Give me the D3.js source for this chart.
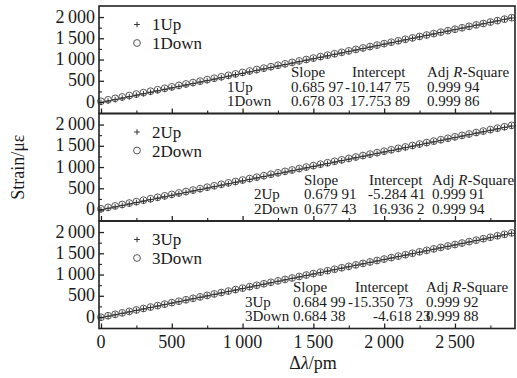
<!DOCTYPE html>
<html>
<head>
<meta charset="utf-8">
<script src="https://cdn.jsdelivr.net/npm/d3@7"></script>
<style>
  body { margin: 0; background: #fff; }
  svg text { font-family: "Liberation Serif", "DejaVu Serif", serif; fill: #1a1a1a; }
</style>
</head>
<body>
<svg id="chart" width="517" height="378" font-family="Liberation Serif, DejaVu Serif, serif"></svg>
<script>
// wavelength shift (pm) for every sample
const dl = [0, 50, 100, 150, 200, 250, 300, 350, 400, 450, 500, 550, 600, 650, 700, 750, 800, 850, 900, 950,
  1000, 1050, 1100, 1150, 1200, 1250, 1300, 1350, 1400, 1450, 1500, 1550, 1600, 1650, 1700, 1750, 1800, 1850, 1900, 1950,
  2000, 2050, 2100, 2150, 2200, 2250, 2300, 2350, 2400, 2450, 2500, 2550, 2600, 2650, 2700, 2750, 2800, 2850, 2900];

const up1 = [-10, 24, 58, 93, 127, 161, 196, 230, 264, 299, 333, 367, 401, 436, 470, 504, 539, 573, 607, 642,
  676, 710, 744, 779, 813, 847, 882, 916, 950, 985, 1019, 1053, 1087, 1122, 1156, 1190, 1225, 1259, 1293, 1327,
  1362, 1396, 1430, 1465, 1499, 1533, 1568, 1602, 1636, 1670, 1705, 1739, 1773, 1808, 1842, 1876, 1911, 1945, 1979];
const down1 = [18, 52, 86, 119, 153, 187, 221, 255, 289, 323, 357, 391, 425, 458, 492, 526, 560, 594, 628, 662,
  696, 730, 764, 797, 831, 865, 899, 933, 967, 1001, 1035, 1069, 1103, 1136, 1170, 1204, 1238, 1272, 1306, 1340,
  1374, 1408, 1442, 1476, 1509, 1543, 1577, 1611, 1645, 1679, 1713, 1747, 1781, 1815, 1848, 1882, 1916, 1950, 1984];
const up2 = [-5, 29, 63, 97, 131, 165, 199, 233, 267, 301, 335, 369, 403, 437, 471, 505, 539, 573, 607, 641,
  675, 709, 743, 777, 811, 845, 879, 913, 947, 981, 1015, 1049, 1083, 1117, 1151, 1185, 1219, 1253, 1287, 1321,
  1355, 1389, 1423, 1457, 1491, 1525, 1559, 1593, 1627, 1660, 1694, 1728, 1762, 1796, 1830, 1864, 1898, 1932, 1966];
const down2 = [17, 51, 85, 119, 152, 186, 220, 254, 288, 322, 356, 390, 423, 457, 491, 525, 559, 593, 627, 660,
  694, 728, 762, 796, 830, 864, 898, 931, 965, 999, 1033, 1067, 1101, 1135, 1169, 1202, 1236, 1270, 1304, 1338,
  1372, 1406, 1440, 1473, 1507, 1541, 1575, 1609, 1643, 1677, 1711, 1744, 1778, 1812, 1846, 1880, 1914, 1948, 1981];
const up3 = [-15, 19, 53, 87, 122, 156, 190, 224, 259, 293, 327, 361, 396, 430, 464, 498, 533, 567, 601, 635,
  670, 704, 738, 772, 807, 841, 875, 909, 944, 978, 1012, 1046, 1081, 1115, 1149, 1183, 1218, 1252, 1286, 1320,
  1355, 1389, 1423, 1457, 1492, 1526, 1560, 1594, 1629, 1663, 1697, 1731, 1766, 1800, 1834, 1868, 1903, 1937, 1971];
const down3 = [-5, 30, 64, 98, 132, 166, 201, 235, 269, 303, 338, 372, 406, 440, 474, 509, 543, 577, 611, 646,
  680, 714, 748, 782, 817, 851, 885, 919, 954, 988, 1022, 1056, 1090, 1125, 1159, 1193, 1227, 1261, 1296, 1330,
  1364, 1398, 1433, 1467, 1501, 1535, 1569, 1604, 1638, 1672, 1706, 1741, 1775, 1809, 1843, 1877, 1912, 1946, 1980];

const upNames = ["1Up", "2Up", "3Up"];
const downNames = ["1Down", "2Down", "3Down"];

// linear fit results printed in each panel
const fitSlope = [0.68597, 0.67991, 0.68499];
const fitIntercept = [-10.14775, -5.28441, -15.35073];
const slopeUp = ["0.685 97", "0.679 91", "0.684 99"];
const slopeDown = ["0.678 03", "0.677 43", "0.684 38"];
const interceptUp = ["-10.147 75", "-5.284 41", "-15.350 73"];
const interceptDown = ["17.753 89", "16.936 2", "-4.618 23"];
const r2Up = ["0.999 94", "0.999 91", "0.999 92"];
const r2Down = ["0.999 86", "0.999 94", "0.999 88"];

const xTicks = [0, 500, 1000, 1500, 2000, 2500];
const yTicks = [0, 500, 1000, 1500, 2000];

const svg = d3.select("#chart");
const plotL = 99, plotR = 515, plotT = 6, panelH = 107.5;
const ink = "#222";
const fmt = v => v >= 1000 ? d3.format(",")(v).replace(",", "\u2009") : String(v);

const x = d3.scaleLinear().domain([-14, 2924]).range([plotL, plotR]);

const panels = [
  {up: up1, down: down1},
  {up: up2, down: down2},
  {up: up3, down: down3}
];

// per-panel x positions of the fit table
const tablePos = [
  {name: 227, slope: 291, icH: 352, icU: 345, icD: 350, r2: 427},
  {name: 254, slope: 304, icH: 369, icU: 368, icD: 372, r2: 432},
  {name: 245, slope: 293, icH: 355, icU: 348, icD: 373, r2: 426}
];

panels.forEach((p, i) => {
  const t = plotT + i * panelH;
  const y = d3.scaleLinear().domain([-270, 2260]).range([t + panelH, t]);
  const g = svg.append("g");
  const last = dl[dl.length - 1];

  // fit line
  g.append("line")
    .attr("x1", x(0)).attr("x2", x(last))
    .attr("y1", y(fitIntercept[i])).attr("y2", y(fitSlope[i] * last + fitIntercept[i]))
    .attr("stroke", "#333").attr("stroke-width", 1);

  // down: open circles
  g.selectAll(".c").data(p.down).join("circle")
    .attr("cx", (d, j) => x(dl[j]))
    .attr("cy", d => y(d))
    .attr("r", 3.4)
    .attr("fill", "none")
    .attr("stroke", "#555")
    .attr("stroke-width", 1);

  // up: plus signs
  g.selectAll(".p").data(p.up).join("path")
    .attr("d", (d, j) => {
      const cx = x(dl[j]), cy = y(d), s = 2.8;
      return `M${cx - s},${cy}H${cx + s}M${cx},${cy - s}V${cy + s}`;
    })
    .attr("stroke", "#333")
    .attr("stroke-width", 1);

  // y axis, ticks inward
  g.append("g").attr("transform", `translate(${plotL},0)`)
    .call(d3.axisRight(y).tickValues(yTicks).tickSize(5).tickFormat(""))
    .call(a => a.select(".domain").remove())
    .selectAll("line").attr("stroke", ink).attr("stroke-width", 1.3);
  g.append("g").attr("transform", `translate(${plotL},0)`)
    .call(d3.axisRight(y).tickValues([250, 750, 1250, 1750]).tickSize(3).tickFormat(""))
    .call(a => a.select(".domain").remove())
    .selectAll("line").attr("stroke", ink).attr("stroke-width", 1.1);
  yTicks.forEach(v => {
    g.append("text").attr("x", plotL - 4).attr("y", y(v) + 5.5)
      .attr("text-anchor", "end").attr("font-size", 18).text(fmt(v));
  });

  // x ticks along bottom of each panel, inward
  g.append("g").attr("transform", `translate(0,${t + panelH})`)
    .call(d3.axisTop(x).tickValues(xTicks).tickSize(5).tickFormat(""))
    .call(a => a.select(".domain").remove())
    .selectAll("line").attr("stroke", ink).attr("stroke-width", 1.3);
  g.append("g").attr("transform", `translate(0,${t + panelH})`)
    .call(d3.axisTop(x).tickValues([250, 750, 1250, 1750, 2250, 2750]).tickSize(3).tickFormat(""))
    .call(a => a.select(".domain").remove())
    .selectAll("line").attr("stroke", ink).attr("stroke-width", 1.1);

  // frame
  g.append("rect").attr("x", plotL).attr("y", t).attr("width", plotR - plotL).attr("height", panelH)
    .attr("fill", "none").attr("stroke", ink).attr("stroke-width", 1.6);

  // legend
  const lx = 137;
  g.append("path")
    .attr("d", `M${lx - 2.8},${t + 18.5}H${lx + 2.8}M${lx},${t + 15.7}V${t + 21.3}`)
    .attr("stroke", "#333").attr("stroke-width", 1);
  g.append("text").attr("x", lx + 15).attr("y", t + 24).attr("font-size", 17).text(upNames[i]);
  g.append("circle").attr("cx", lx).attr("cy", t + 37).attr("r", 3.4)
    .attr("fill", "none").attr("stroke", "#555");
  g.append("text").attr("x", lx + 15).attr("y", t + 43).attr("font-size", 17).text(downNames[i]);

  // fit table
  const tp = tablePos[i];
  const fs = 15;
  const hy = t + 71, r1 = t + 85.5, r2y = t + 100;
  const txt = (xx, yy, s) => g.append("text").attr("x", xx).attr("y", yy).attr("font-size", fs).text(s);
  txt(tp.slope, hy, "Slope");
  txt(tp.icH, hy, "Intercept");
  const h = g.append("text").attr("x", tp.r2).attr("y", hy).attr("font-size", fs);
  h.append("tspan").text("Adj ");
  h.append("tspan").attr("font-style", "italic").text("R");
  h.append("tspan").text("-Square");
  txt(tp.name, r1, upNames[i]);
  txt(tp.slope, r1, slopeUp[i]);
  txt(tp.icU, r1, interceptUp[i]);
  txt(tp.r2, r1, r2Up[i]);
  txt(tp.name, r2y, downNames[i]);
  txt(tp.slope, r2y, slopeDown[i]);
  txt(tp.icD, r2y, interceptDown[i]);
  txt(tp.r2, r2y, r2Down[i]);
});

// bottom tick labels
const plotB = plotT + 3 * panelH;
xTicks.forEach(v => {
  svg.append("text").attr("x", x(v)).attr("y", plotB + 19)
    .attr("text-anchor", "middle").attr("font-size", 18).text(fmt(v));
});

// axis titles
const xt = svg.append("text").attr("x", 313).attr("y", 369).attr("text-anchor", "middle").attr("font-size", 18);
xt.append("tspan").text("Δ");
xt.append("tspan").attr("font-style", "italic").text("λ");
xt.append("tspan").text("/pm");

svg.append("text")
  .attr("transform", `translate(24,${plotT + 1.5 * panelH}) rotate(-90)`)
  .attr("text-anchor", "middle").attr("font-size", 18).text("Strain/με");
</script>
</body>
</html>
